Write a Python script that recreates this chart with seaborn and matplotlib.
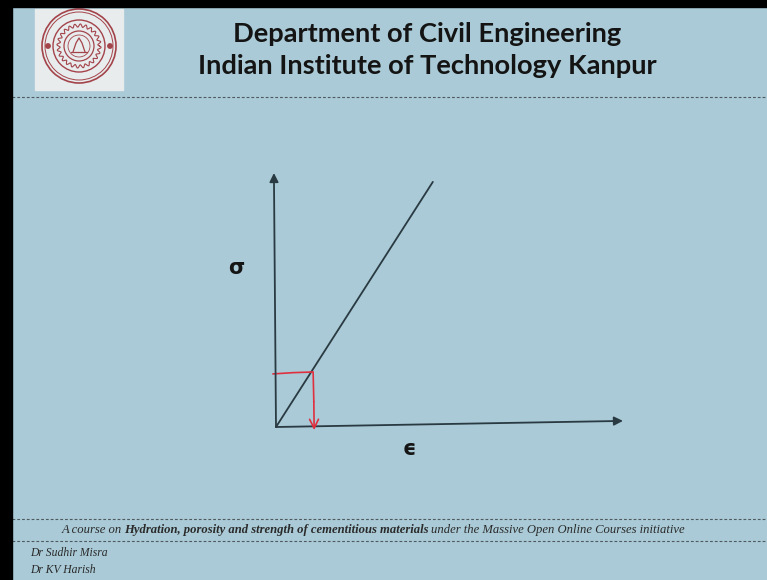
import numpy as np
import pandas as pd
import matplotlib
matplotlib.use("Agg")
import matplotlib.pyplot as plt
from matplotlib.patches import Rectangle, Circle
import seaborn as sns

# ---- content -------------------------------------------------------------
title_lines = ["Department of Civil Engineering",
               "Indian Institute of Technology Kanpur"]
footer_parts = ["A course on",
                "Hydration, porosity and strength of cementitious materials",
                "under the Massive Open Online Courses initiative"]
authors = ["Dr Sudhir Misra", "Dr KV Harish"]

# linear elastic stress-strain line (normalised units)
strain = [0.0, 0.452]
stress = [0.0, 0.965]

# hand-drawn marker: read a stress level across to the line, then down to strain
mark_x = [-0.009, 0.05, 0.095, 0.107, 0.109, 0.110]
mark_y = [0.209, 0.214, 0.216, 0.217, 0.10, -0.012]

x_label = "\u03f5"
y_label = "\u03c3"

# ---- style ---------------------------------------------------------------
sns.set_style("white")
plt.rcParams["font.family"] = ["DejaVu Sans"]

BG = "#a9cad6"
INK = "#2a3a42"
RED = "#e0303f"

W, H = 767, 580
fig = plt.figure(figsize=(W / 100, H / 100), dpi=100)
fig.patch.set_facecolor(BG)

# full-figure canvas in pixel units for the slide furniture
bg = fig.add_axes([0, 0, 1, 1])
bg.set_xlim(0, W)
bg.set_ylim(H, 0)
bg.axis("off")
bg.set_facecolor(BG)

bg.add_patch(Rectangle((0, 0), 12, H, color="black", zorder=5))
bg.add_patch(Rectangle((0, 0), W, 7, color="black", zorder=5))

for yy in (97, 519, 541):
    bg.plot([12, W], [yy, yy], color="#4f5a60", lw=0.8,
            dashes=(2.5, 1.8), zorder=2)

# institute seal
bg.add_patch(Rectangle((35, 9), 88, 81, color="#e9eced", zorder=2))
cx, cy = 79, 46
seal = "#a3434a"
for r, lw in ((37, 1.2), (34, 0.7), (26, 1.0), (15, 0.9), (11, 0.6)):
    bg.add_patch(Circle((cx, cy), r, fill=False, ec=seal, lw=lw, zorder=3))
th = np.linspace(0, 2 * np.pi, 400)
rw = 20.5 + 1.6 * np.sin(24 * th)
bg.plot(cx + rw * np.cos(th), cy + rw * np.sin(th), color=seal, lw=0.8, zorder=3)
for dx in (-31, 31):
    bg.add_patch(Circle((cx + dx, cy), 2.2, color=seal, zorder=3))
bg.plot([cx - 6, cx - 3, cx, cx + 3, cx + 6], [cy + 6, cy - 3, cy - 8, cy - 3, cy + 6],
        color=seal, lw=0.9, zorder=3)
bg.plot([cx - 8, cx + 8], [cy + 6, cy + 6], color=seal, lw=0.9, zorder=3)

# title
for txt, yy in zip(title_lines, (34, 66)):
    bg.text(427, yy, txt, ha="center", va="center", fontsize=19.6,
            fontweight="bold", family="Lato", color="#141414", zorder=4)

# footer line with mixed styles, laid out piece by piece
fig.canvas.draw()
renderer = fig.canvas.get_renderer()
styles = [("italic", "normal"), ("italic", "bold"), ("italic", "normal")]
fsize = 9.1
gaps = [1.5, 3.0, 0.0]
x = 62
for part, (st, wt), g in zip(footer_parts, styles, gaps):
    t = bg.text(x, 533, part, ha="left", va="baseline", fontsize=fsize,
                family="Liberation Serif", style=st, fontweight=wt,
                color="#2a2a2a", zorder=4)
    bb = t.get_window_extent(renderer)
    x = x + bb.width + g

for txt, yy in zip(authors, (556, 573)):
    bg.text(30, yy, txt, ha="left", va="baseline", fontsize=8.4,
            family="Liberation Serif", style="italic", color="#2a2a2a", zorder=4)

# ---- the stress-strain sketch -------------------------------------------
x0, y0 = 276, 427
x1, y1 = 623, 173
ax = fig.add_axes([x0 / W, (H - y0) / H, (x1 - x0) / W, (y0 - y1) / H])
ax.set_xlim(0, 1)
ax.set_ylim(0, 1)
ax.axis("off")
ax.patch.set_alpha(0)

df = pd.DataFrame({"strain": strain, "stress": stress})
sns.lineplot(data=df, x="strain", y="stress", ax=ax, color=INK, lw=1.3,
             estimator=None, sort=False)

arrow = dict(arrowstyle="-|>", color=INK, lw=1.3, mutation_scale=13,
             shrinkA=0, shrinkB=0)
ax.annotate("", xy=(-0.006, 1.0), xytext=(0, 0), arrowprops=arrow,
            annotation_clip=False)
ax.annotate("", xy=(1.0, 0.024), xytext=(0, 0), arrowprops=arrow,
            annotation_clip=False)

mk = pd.DataFrame({"x": mark_x, "y": mark_y})
sns.lineplot(data=mk.iloc[:-1], x="x", y="y", ax=ax, color=RED, lw=1.2,
             estimator=None, sort=False)
ax.annotate("", xy=(mark_x[-1], mark_y[-1]), xytext=(mark_x[-2], mark_y[-2]),
            arrowprops=dict(arrowstyle="->", color=RED, lw=1.2,
                            mutation_scale=16, shrinkA=0, shrinkB=0),
            annotation_clip=False)
for ln in ax.lines:
    ln.set_clip_on(False)

ax.text(-0.115, 0.626, y_label, ha="center", va="center", fontsize=15,
        fontweight="bold", color="#151515")
ax.text(0.383, -0.087, x_label, ha="center", va="center", fontsize=15,
        fontweight="bold", color="#151515")
ax.set_xlabel("")
ax.set_ylabel("")
if ax.get_legend():
    ax.get_legend().remove()

fig.savefig("out.png", dpi=100, facecolor=BG)
